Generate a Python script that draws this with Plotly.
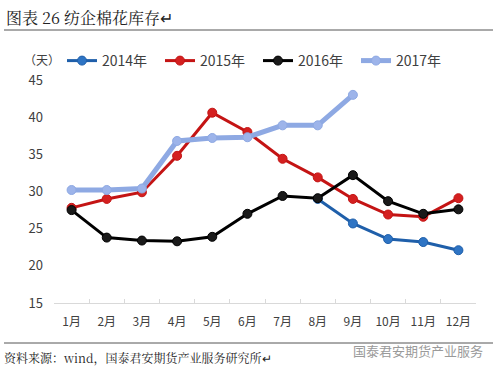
import plotly.graph_objects as go

months = ["1月", "2月", "3月", "4月", "5月", "6月", "7月", "8月", "9月", "10月", "11月", "12月"]
s2014 = [None, None, None, None, None, None, None, 29.0, 25.7, 23.6, 23.2, 22.1]
s2015 = [27.8, 29.0, 29.9, 34.8, 40.6, 38.0, 34.4, 31.9, 29.0, 26.9, 26.6, 29.1]
s2016 = [27.5, 23.8, 23.4, 23.3, 23.9, 27.0, 29.4, 29.1, 32.2, 28.7, 27.0, 27.6]
s2017 = [30.2, 30.2, 30.4, 36.8, 37.2, 37.3, 38.9, 38.9, 43.0, None, None, None]
yticks = [15, 20, 25, 30, 35, 40, 45]

series = [
    ("2014年", s2014, "#1F5FAA", "#2E74C4", 3),
    ("2015年", s2015, "#C41414", "#D42020", 3),
    ("2016年", s2016, "#000000", "#1A1A1A", 3),
    ("2017年", s2017, "#8EA9E3", "#9DB4EA", 5),
]

W, H = 497, 372
l, r, t, b = 54, 21, 80, 69
pw, ph = W - l - r, H - t - b
def px(x):
    return (x - l) / pw
def py(y):
    return (H - b - y) / ph

fig = go.Figure()
for name, vals, lc, mc, w in series:
    fig.add_trace(go.Scatter(
        x=months, y=vals, name=name, mode="lines+markers",
        line=dict(color=lc, width=w),
        marker=dict(color=mc, size=9, line=dict(color=lc, width=1)),
        connectgaps=False,
    ))

font_cjk = "Noto Sans CJK SC, Microsoft YaHei, sans-serif"
font_serif = "Noto Serif CJK SC, SimSun, serif"

fig.update_layout(
    width=W, height=H,
    margin=dict(l=l, r=r, t=t, b=b),
    paper_bgcolor="white", plot_bgcolor="white",
    showlegend=True,
    legend=dict(orientation="h", x=px(62), xanchor="left", y=py(61), yanchor="middle",
                font=dict(family=font_cjk, size=14, color="#404040"),
                itemwidth=30, entrywidth=53, entrywidthmode="pixels",
                tracegroupgap=0, bgcolor="rgba(0,0,0,0)"),
    xaxis=dict(type="category", showgrid=False, showline=True, linecolor="#D9D9D9",
               linewidth=1, ticks="inside", ticklen=4, tickcolor="#D9D9D9",
               tickson="boundaries", ticklabelstandoff=8,
               tickfont=dict(family=font_cjk, size=12, color="#404040"),
               range=[-0.5, 11.5]),
    yaxis=dict(range=[15, 45], tickvals=yticks, showgrid=False, showline=False,
               zeroline=False, ticks="", ticklabelstandoff=10,
               tickfont=dict(family=font_cjk, size=13, color="#404040")),
    annotations=[
        dict(text="图表 26 纺企棉花库存↵", x=px(4), y=py(17), xref="paper", yref="paper",
             showarrow=False, xanchor="left", yanchor="middle",
             font=dict(family=font_serif, size=16, color="#222222")),
        dict(text="（天）", x=px(22), y=py(60), xref="paper", yref="paper",
             showarrow=False, xanchor="left", yanchor="middle",
             font=dict(family=font_cjk, size=12, color="#404040")),
        dict(text="资料来源：wind，国泰君安期货产业服务研究所↵", x=px(2), y=py(357),
             xref="paper", yref="paper",
             showarrow=False, xanchor="left", yanchor="middle",
             font=dict(family=font_serif, size=12, color="#222222")),
        dict(text="国泰君安期货产业服务", x=px(485), y=py(350), xref="paper", yref="paper",
             showarrow=False, xanchor="right", yanchor="middle",
             font=dict(family=font_cjk, size=13, color="#9A9A9A")),
    ],
    shapes=[
        dict(type="line", xref="paper", yref="paper", x0=px(4), x1=px(493),
             y0=py(30), y1=py(30), line=dict(color="#555555", width=1)),
        dict(type="line", xref="paper", yref="paper", x0=px(4), x1=px(493),
             y0=py(343), y1=py(343), line=dict(color="#555555", width=1)),
    ],
)

fig.write_html("out.html", config={"displayModeBar": False},
               post_script="document.body.style.margin='0';")
